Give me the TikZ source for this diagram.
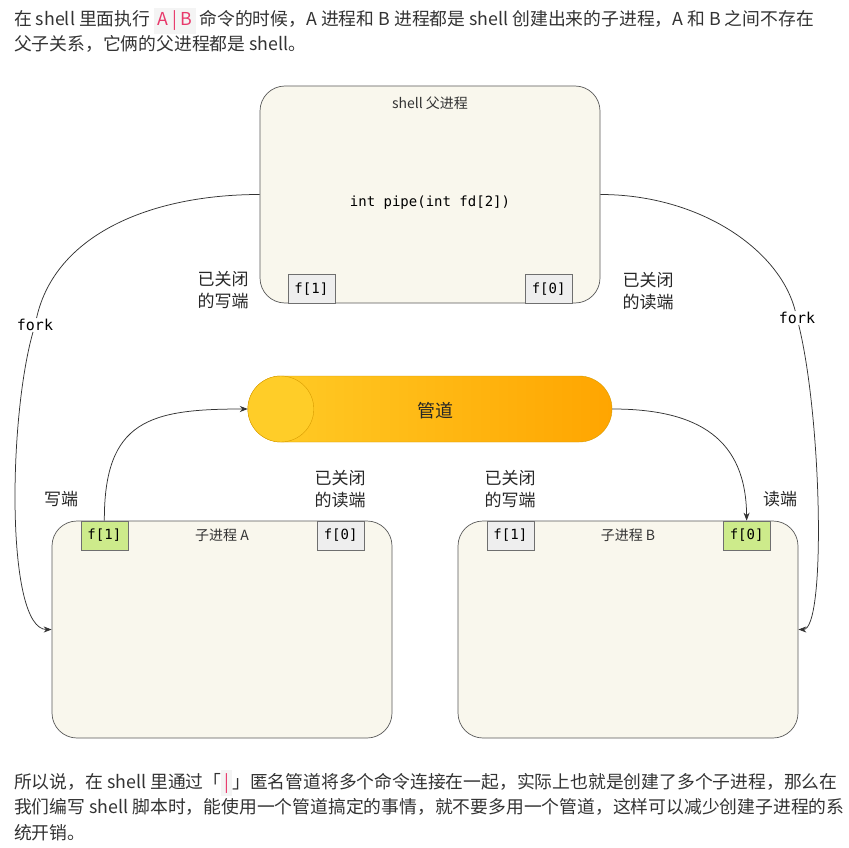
\documentclass[tikz,border=0pt]{standalone}
\usepackage{fontspec}
\setmainfont{Noto Sans CJK SC}
\newfontfamily\codefont{DejaVu Sans Mono}
\usetikzlibrary{positioning,arrows.meta}

\definecolor{txt}{HTML}{333333}
\definecolor{procfill}{HTML}{F9F7ED}
\definecolor{procline}{HTML}{5A5A5A}
\definecolor{fdgray}{HTML}{EEEEEE}
\definecolor{fdgreen}{HTML}{CDEB8B}
\definecolor{fdline}{HTML}{6F6F6F}
\definecolor{pipetop}{HTML}{FFCD28}
\definecolor{pipeend}{HTML}{FFA500}
\definecolor{pipeline}{HTML}{D79B00}
\definecolor{codefg}{HTML}{E8396B}
\definecolor{codebg}{HTML}{F4F4F4}

\newcommand\pinkcode[1]{{\setlength{\fboxsep}{3pt}\colorbox{codebg}{\textcolor{codefg}{#1}}}}

\begin{document}
\begin{tikzpicture}[x=1pt,y=-1pt,
    proc/.style={draw=procline,fill=procfill,rounded corners=25pt,minimum width=340pt,minimum height=217pt,line width=0.7pt},
    fd/.style={draw=fdline,fill=fdgray,minimum width=47pt,minimum height=29pt,inner sep=0pt,font=\codefont\fontsize{14}{14}\selectfont},
    fdopen/.style={fd,fill=fdgreen},
    pipe/.style={draw=pipeline,left color=pipetop,right color=pipeend,rounded corners=33pt,minimum width=364pt,minimum height=66pt},
    note/.style={align=center,text=black!85,font=\fontsize{17}{22}\selectfont},
    title/.style={text=black!80,font=\fontsize{14}{14}\selectfont},
    para/.style={anchor=base west,inner sep=0pt,text=txt,font=\fontsize{17.8}{17.8}\selectfont},
    conn/.style={draw=black!80,line width=0.75pt,-{Stealth[length=8pt,width=6pt]}},
    forklbl/.style={fill=white,inner sep=1pt,font=\codefont\fontsize{15}{15}\selectfont}]
\fill[white] (0,0) rectangle (849,848);
\useasboundingbox (0,0) rectangle (849,848);

% text above and below
\node[para] (top1) at (14,26) {在 shell 里面执行 \pinkcode{A | B} 命令的时候，A 进程和 B 进程都是 shell 创建出来的子进程，A 和 B 之间不存在};
\node[para] (top2) at (14,51) {父子关系，它俩的父进程都是 shell。};
\node[para] (bot1) at (14,788) {所以说，在 shell 里通过「\pinkcode{|}」匿名管道将多个命令连接在一起，实际上也就是创建了多个子进程，那么在};
\node[para] (bot2) at (14,813) {我们编写 shell 脚本时，能使用一个管道搞定的事情，就不要多用一个管道，这样可以减少创建子进程的系};
\node[para] (bot3) at (14,839) {统开销。};

% parent
\node[proc] (parent) at (430,194.5) {};
\node[title,below=8pt of parent.north] (ptitle) {shell 父进程};
\node[font=\codefont\fontsize{14}{14}\selectfont] (pcall) at (430,203) {int pipe(int fd[2])};
\node[fd,anchor=south west] (pf1) at ([xshift=28pt]parent.south west) {f[1]};
\node[fd,anchor=south east] (pf0) at ([xshift=-28pt]parent.south east) {f[0]};
\node[note] (pclosedW) at (223,290) {已关闭\\的写端};
\node[note] (pclosedR) at (648,291) {已关闭\\的读端};

% children
\node[proc] (childA) at (222,629.5) {};
\node[proc] (childB) at (628,629.5) {};
\node[fdopen,anchor=north west] (af1) at ([xshift=29pt]childA.north west) {f[1]};
\node[fd,anchor=north east] (af0) at ([xshift=-28pt]childA.north east) {f[0]};
\node[fd,anchor=north west] (bf1) at ([xshift=29pt]childB.north west) {f[1]};
\node[fdopen,anchor=north east] (bf0) at ([xshift=-28pt]childB.north east) {f[0]};
\node[title] (atitle) at (childA.north |- af1) {子进程 A};
\node[title] (btitle) at (childB.north |- bf1) {子进程 B};
\node[note] (aW) at (61,499) {写端};
\node[note] (aclosedR) at (340,489) {已关闭\\的读端};
\node[note] (bclosedW) at (510,489) {已关闭\\的写端};
\node[note] (bR) at (780,499) {读端};

% pipe
\node[pipe] (pipe) at (430,409) {};
\draw[pipeline,fill=pipetop] ([xshift=33pt]pipe.west) circle[radius=33pt];
\node[font=\fontsize{18}{18}\selectfont,text=black!85] (pipename) at (435,411) {管道};

% fork edges
\node[forklbl] (forkL) at (35,325) {fork};
\node[forklbl] (forkR) at (797,318) {fork};
\draw[draw=black!80,line width=0.75pt] (parent.west) .. controls (150,194.5) and (55,235) .. (forkL);
\draw[conn] (forkL) .. controls (8,420) and (6,629.5) .. (childA.west);
\draw[draw=black!80,line width=0.75pt] (parent.east) .. controls (700,194.5) and (780,250) .. (forkR);
\draw[conn] (forkR) .. controls (822,420) and (826,629.5) .. (childB.east);

% data through the pipe
\draw[conn] (af1.north) .. controls (104,420) and (150,409) .. (pipe.west);
\draw[conn] (pipe.east) .. controls (700,409) and (746,440) .. (bf0.north);
\end{tikzpicture}
\end{document}
